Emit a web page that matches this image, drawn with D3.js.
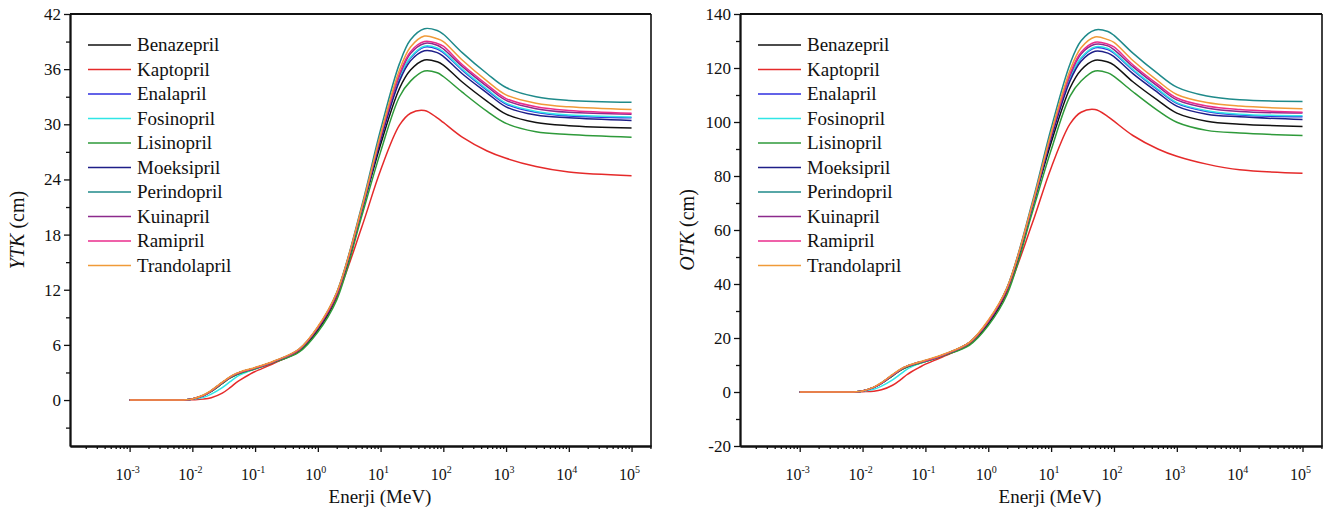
<!DOCTYPE html>
<html><head><meta charset="utf-8">
<script src="https://cdn.jsdelivr.net/npm/d3@7/dist/d3.min.js"></script>
<style>
body{margin:0;background:#fff}
text{font-family:"Liberation Serif","Times New Roman",serif;fill:#111}
</style>
</head><body>
<svg id="c" width="1327" height="508"></svg>
<script>
// Energies (MeV)
const energies = [0.001, 0.005, 0.008, 0.01, 0.015, 0.02, 0.03, 0.04, 0.05, 0.06, 0.08, 0.1, 0.2, 0.5, 1, 2, 5, 10, 20, 30, 50, 80, 100, 200, 500, 1000, 3000, 10000, 100000];

const seriesNames = ["Benazepril","Kaptopril","Enalapril","Fosinopril","Lisinopril","Moeksipril","Perindopril","Kuinapril","Ramipril","Trandolapril"];
const seriesColors = ["#111111","#e52a2a","#2f2fe0","#30e6e6","#2e9a3a","#1e1e88","#1f8a8a","#8c2a8c","#ea2d8c","#f09a38"];

// YTK (cm)
const ytkBenazepril   = [0,0,0.02,0.12,0.5,0.95,1.8,2.4,2.75,2.95,3.2,3.4,4.1,5.3,7.6,11.2,20.5,27.8,33.9,35.9,37.0,36.8,36.45,34.6,32.5,31.1,30.2,29.85,29.6];
const ytkKaptopril    = [0,0,0,0.03,0.1,0.25,0.75,1.35,1.9,2.25,2.75,3.1,4.0,5.4,7.8,11.3,18.8,25.0,29.9,31.2,31.5,30.7,30.2,28.6,27.1,26.3,25.4,24.8,24.4];
const ytkEnalapril    = [0,0,0.02,0.12,0.5,1.0,1.9,2.5,2.85,3.05,3.3,3.5,4.2,5.5,7.9,11.6,20.7,28.4,35.0,37.2,38.4,38.2,37.8,35.9,33.7,32.2,31.3,30.9,30.7];
const ytkFosinopril   = [0,0,0.02,0.08,0.3,0.65,1.35,2.0,2.5,2.8,3.15,3.4,4.15,5.5,7.9,11.6,20.7,28.5,35.1,37.3,38.5,38.3,37.9,36.0,33.8,32.3,31.4,31.0,30.8];
const ytkLisinopril   = [0,0,0.02,0.12,0.5,0.95,1.8,2.4,2.75,2.95,3.2,3.4,4.1,5.2,7.4,10.9,20.0,27.0,33.0,34.7,35.8,35.6,35.2,33.5,31.4,30.1,29.2,28.9,28.6];
const ytkMoeksipril   = [0,0,0.02,0.12,0.5,1.0,1.9,2.5,2.85,3.05,3.3,3.5,4.2,5.5,7.8,11.5,20.7,28.3,34.7,36.9,38.0,37.8,37.4,35.5,33.4,31.9,31.0,30.7,30.4];
const ytkPerindopril  = [0,0,0.02,0.12,0.5,1.0,1.9,2.5,2.85,3.05,3.3,3.5,4.2,5.5,7.9,11.7,21.1,29.4,36.6,39.2,40.4,40.2,39.8,37.8,35.5,34.0,33.0,32.6,32.4];
const ytkKuinapril    = [0,0,0.02,0.12,0.5,1.0,1.9,2.5,2.85,3.05,3.3,3.5,4.2,5.5,7.9,11.6,20.8,28.6,35.3,37.7,38.8,38.6,38.2,36.3,34.1,32.6,31.7,31.3,31.1];
const ytkRamipril     = [0,0,0.02,0.12,0.5,1.0,1.9,2.5,2.85,3.05,3.3,3.5,4.2,5.5,7.9,11.6,20.8,28.7,35.5,37.9,39.0,38.8,38.5,36.5,34.3,32.8,31.9,31.5,31.2];
const ytkTrandolapril = [0,0,0.02,0.12,0.55,1.05,1.95,2.55,2.9,3.1,3.35,3.55,4.25,5.55,8.0,11.7,20.9,28.9,35.9,38.4,39.6,39.3,39.0,37.0,34.7,33.2,32.3,31.9,31.6];

// OTK (cm)
const otkBenazepril   = [0,0,0.07,0.4,1.7,3.2,6.0,8.0,9.1,9.8,10.6,11.3,13.6,17.6,25.2,37.2,68.1,92.3,112.6,119.3,122.9,122.2,121.1,114.9,108.0,103.3,100.3,99.2,98.3];
const otkKaptopril    = [0,0,0,0.1,0.3,0.8,2.5,4.5,6.3,7.5,9.1,10.3,13.3,17.9,25.9,37.5,62.4,83.0,99.3,103.6,104.6,102.0,100.3,95.0,90.0,87.3,84.4,82.3,81.0];
const otkEnalapril    = [0,0,0.07,0.4,1.7,3.3,6.3,8.3,9.5,10.1,11.0,11.6,13.9,18.3,26.2,38.5,68.7,94.3,116.2,123.5,127.5,126.8,125.5,119.2,111.9,106.9,103.9,102.6,101.9];
const otkFosinopril   = [0,0,0.07,0.3,1.0,2.2,4.5,6.6,8.3,9.3,10.5,11.3,13.8,18.3,26.2,38.5,68.7,94.6,116.5,123.8,127.8,127.2,125.8,119.5,112.2,107.2,104.2,102.9,102.3];
const otkLisinopril   = [0,0,0.07,0.4,1.7,3.2,6.0,8.0,9.1,9.8,10.6,11.3,13.6,17.3,24.6,36.2,66.4,89.6,109.6,115.2,118.9,118.2,116.9,111.2,104.2,99.9,96.9,95.9,95.0];
const otkMoeksipril   = [0,0,0.07,0.4,1.7,3.3,6.3,8.3,9.5,10.1,11.0,11.6,13.9,18.3,25.9,38.2,68.7,94.0,115.2,122.5,126.2,125.5,124.2,117.9,110.9,105.9,102.9,101.9,100.9];
const otkPerindopril  = [0,0,0.07,0.4,1.7,3.3,6.3,8.3,9.5,10.1,11.0,11.6,13.9,18.3,26.2,38.8,70.1,97.6,121.5,130.1,134.1,133.5,132.1,125.5,117.9,112.9,109.6,108.2,107.6];
const otkKuinapril    = [0,0,0.07,0.4,1.7,3.3,6.3,8.3,9.5,10.1,11.0,11.6,13.9,18.3,26.2,38.5,69.1,95.0,117.2,125.2,128.8,128.2,126.8,120.5,113.2,108.2,105.2,103.9,103.3];
const otkRamipril     = [0,0,0.07,0.4,1.7,3.3,6.3,8.3,9.5,10.1,11.0,11.6,13.9,18.3,26.2,38.5,69.1,95.3,117.9,125.8,129.5,128.8,127.8,121.2,113.9,108.9,105.9,104.6,103.6];
const otkTrandolapril = [0,0,0.07,0.4,1.8,3.5,6.5,8.5,9.6,10.3,11.1,11.8,14.1,18.4,26.6,38.8,69.4,95.9,119.2,127.5,131.5,130.5,129.5,122.8,115.2,110.2,107.2,105.9,104.9];

const ytkSeries = [ytkBenazepril,ytkKaptopril,ytkEnalapril,ytkFosinopril,ytkLisinopril,ytkMoeksipril,ytkPerindopril,ytkKuinapril,ytkRamipril,ytkTrandolapril];
const otkSeries = [otkBenazepril,otkKaptopril,otkEnalapril,otkFosinopril,otkLisinopril,otkMoeksipril,otkPerindopril,otkKuinapril,otkRamipril,otkTrandolapril];

const ytkMajorTicks = [0,6,12,18,24,30,36,42];
const ytkMinorTicks = [-3,3,9,15,21,27,33,39];
const otkMajorTicks = [-20,0,20,40,60,80,100,120,140];
const otkMinorTicks = [-10,10,30,50,70,90,110,130];
const xDecadeExponents = [-3,-2,-1,0,1,2,3,4,5];

const svg = d3.select("#c");

function drawPanel(p) {
  const g = svg.append("g");
  const x = d3.scaleLog().domain([Math.pow(10,-3.95), Math.pow(10,5.31)]).range([p.x0, p.x1]);
  const y = d3.scaleLinear().domain(p.yDomain).range([p.yBottom, p.yTop]);

  // lines
  const line = d3.line().x(d => x(d[0])).y(d => y(d[1])).curve(d3.curveCatmullRom.alpha(0.5));
  p.series.forEach((vals, i) => {
    g.append("path")
      .datum(energies.map((e, k) => [e, vals[k]]))
      .attr("d", line)
      .attr("fill", "none")
      .attr("stroke", seriesColors[i])
      .attr("stroke-width", 1.5);
  });

  // frame top/right
  g.append("line").attr("x1", p.x0).attr("x2", p.x1).attr("y1", p.yTop).attr("y2", p.yTop)
    .attr("stroke", "#111").attr("stroke-width", 2);
  g.append("line").attr("x1", p.x1).attr("x2", p.x1).attr("y1", p.yTop).attr("y2", p.yBottom)
    .attr("stroke", "#111").attr("stroke-width", 1.6);

  // left axis
  const yMajor = g.append("g").attr("transform", `translate(${p.x0},0)`)
    .call(d3.axisLeft(y).tickValues(p.majors).tickSize(6).tickSizeOuter(0).tickPadding(3).tickFormat(d => d));
  const yMinor = g.append("g").attr("transform", `translate(${p.x0},0)`)
    .call(d3.axisLeft(y).tickValues(p.minors).tickSize(4).tickSizeOuter(0).tickFormat(""));
  [yMajor, yMinor].forEach(a => {
    a.selectAll("path").attr("stroke", "#111").attr("stroke-width", 1.8);
    a.selectAll("line").attr("stroke", "#111").attr("stroke-width", 1.3);
  });
  yMajor.selectAll("text").attr("font-size", 17).attr("fill", "#111")
    .style("font-family", '"Liberation Serif", serif');

  // bottom axis
  const minorX = [];
  for (let n = -4; n <= 5; n++) for (let m = 2; m <= 9; m++) {
    const v = m * Math.pow(10, n);
    if (v > x.domain()[0] && v < x.domain()[1]) minorX.push(v);
  }
  const xMajor = g.append("g").attr("transform", `translate(0,${p.yBottom})`)
    .call(d3.axisBottom(x).tickValues(xDecadeExponents.map(e => Math.pow(10, e))).tickSize(6).tickSizeOuter(0).tickFormat(""));
  const xMinor = g.append("g").attr("transform", `translate(0,${p.yBottom})`)
    .call(d3.axisBottom(x).tickValues(minorX).tickSize(3).tickSizeOuter(0).tickFormat(""));
  [xMajor, xMinor].forEach(a => {
    a.selectAll("path").attr("stroke", "#111").attr("stroke-width", 1.8);
    a.selectAll("line").attr("stroke", "#111").attr("stroke-width", 1.3);
  });
  xDecadeExponents.forEach(e => {
    const t = g.append("text").attr("x", x(Math.pow(10, e)) - 2).attr("y", p.yBottom + 34)
      .attr("text-anchor", "middle").attr("font-size", 16);
    t.append("tspan").text("10");
    t.append("tspan").attr("dy", -7).attr("font-size", 10).text(String(e));
  });

  // axis titles
  g.append("text").attr("x", p.xTitleX).attr("y", 503).attr("text-anchor", "middle")
    .attr("font-size", 19).text("Enerji (MeV)");
  const yt = g.append("text").attr("transform", `translate(${p.yTitleX},${(p.yTop + p.yBottom) / 2}) rotate(-90)`)
    .attr("text-anchor", "middle").attr("font-size", 20);
  yt.append("tspan").attr("font-style", "italic").text(p.yTitle);
  yt.append("tspan").text(" (cm)");

  // legend
  const lg = g.append("g");
  seriesNames.forEach((name, i) => {
    const cy = 45 + i * 24.5;
    lg.append("line").attr("x1", p.legX).attr("x2", p.legX + 43).attr("y1", cy).attr("y2", cy)
      .attr("stroke", seriesColors[i]).attr("stroke-width", 1.5);
    lg.append("text").attr("x", p.legX + 49).attr("y", cy + 6).attr("font-size", 19).text(name);
  });
}

drawPanel({x0: 70, x1: 651, yTop: 14, yBottom: 446, yDomain: [-5, 42], series: ytkSeries,
  majors: ytkMajorTicks, minors: ytkMinorTicks, yTitle: "YTK", yTitleX: 24, xTitleX: 380, legX: 88});
drawPanel({x0: 740, x1: 1322, yTop: 14, yBottom: 446, yDomain: [-20, 140], series: otkSeries,
  majors: otkMajorTicks, minors: otkMinorTicks, yTitle: "OTK", yTitleX: 694, xTitleX: 1050, legX: 758});
</script>
</body></html>
